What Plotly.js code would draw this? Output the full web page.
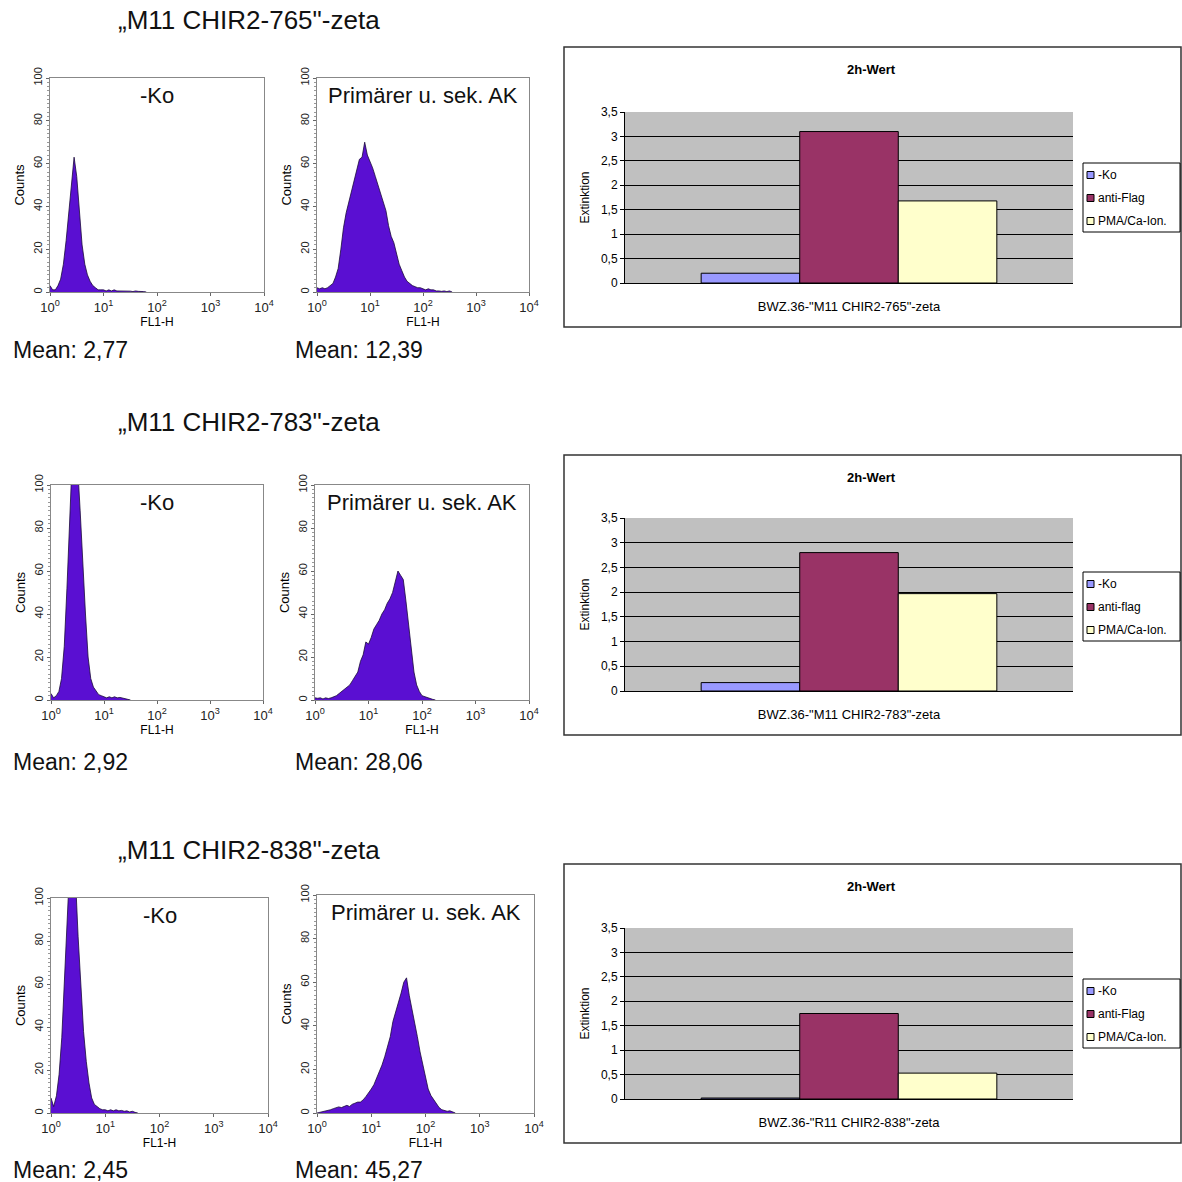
<!DOCTYPE html>
<html><head><meta charset="utf-8">
<script src="https://cdn.plot.ly/plotly-3.0.1.min.js"></script>
<style>html,body{margin:0;padding:0;background:#fff}#chart{width:1182px;height:1182px}</style>
</head><body><div id="chart"></div>
<script>
// ---------- DATA ----------
// FL1-H channel values (log spaced, 0.05 decade steps)
const fl1 = [1.00,1.12,1.26,1.41,1.58,1.78,2.00,2.24,2.51,2.82,
  3.16,3.55,3.98,4.47,5.01,5.62,6.31,7.08,7.94,8.91,
  10.0,11.2,12.6,14.1,15.8,17.8,20.0,22.4,25.1,28.2,
  31.6,35.5,39.8,44.7,50.1,56.2,63.1,70.8,79.4,89.1,
  100,112,126,141,158,178,200,224,251,282,316,355,398];

// Counts per channel
const ko765 = [3,1,1,3,6,13,24,37,52,63,54,38,22,13,8,5,3,2,1,1,1,0.5,1,0.5,1,0.5,0.5,0.3,0.6,0.3,0.4,0.2,0.5,0.3,0.4,0.2,0];
const ak765 = [2,1.5,2,1.5,2,3,4,7,11,20,30,37,42,47,53,58,62,63,70,64,61,58,54,50,46,42,38,31,26,23,18,13,10,7,5,4,3,2.5,2,2,1.5,1,1.5,1,1,0.5,0.5,0.3,0.5,0.2,0.5,0];
const ko783 = [3,1,2,4,10,25,52,85,112,125,110,88,62,40,20,10,6,4,2.5,2,1.5,1,1.5,1,1.5,1,1.2,0.8,0.5,0.3,0];
const ak783 = [1,0.8,1,0.5,1,0.7,1,1.5,2,3,4,5,6,7,9,11,13,18,21,27,26,29,33,35,37,40,42,45,47,50,55,60,58,56,46,35,22,13,7,4,2,1.5,1,0.5,0.3,0];
const ko838 = [7,3,8,18,35,65,95,118,125,110,82,58,38,24,14,7,4,3,2,1.5,1.5,1,1.5,1,1.5,1,1.2,0.8,1,0.5,0.8,0.3,0];
const ak838 = [0,0.3,0.5,0.8,1,1.5,2,2.5,2.8,2.5,3,3.5,3,4,4.5,5,5,6,7.5,9,11,13,16,19,22,26,30,35,42,46,51,55,60,62,54,48,42,35,28,22,16,11,8,6,4,2.5,1.5,1,0.8,1,0.5,0];

const rowTitles = ['\u201EM11 CHIR2-765"-zeta', '\u201EM11 CHIR2-783"-zeta', '\u201EM11 CHIR2-838"-zeta'];
const koMeans = ['Mean: 2,77', 'Mean: 2,92', 'Mean: 2,45'];
const akMeans = ['Mean: 12,39', 'Mean: 28,06', 'Mean: 45,27'];
const panelLabels = ['-Ko', 'Prim\u00E4rer u. sek. AK'];

const histTicks = [1, 10, 100, 1000, 10000];
const histTickText = ['10<sup>0</sup>', '10<sup>1</sup>', '10<sup>2</sup>', '10<sup>3</sup>', '10<sup>4</sup>'];
const countTicks = [0, 20, 40, 60, 80, 100];

const barCategories = ['BWZ.36-"M11 CHIR2-765"-zeta', 'BWZ.36-"M11 CHIR2-783"-zeta', 'BWZ.36-"R11 CHIR2-838"-zeta'];
const koNames = ['-Ko', '-Ko', '-Ko'];
const flagNames = ['anti-Flag', 'anti-flag', 'anti-Flag'];
const pmaNames = ['PMA/Ca-Ion.', 'PMA/Ca-Ion.', 'PMA/Ca-Ion.'];
const koValues = [0.20, 0.17, 0.02];
const flagValues = [3.10, 2.80, 1.75];
const pmaValues = [1.68, 1.97, 0.53];
const barColors = ['#9999FF', '#993366', '#FFFFCC'];
const barTitle = '2h-Wert';

// ---------- LAYOUT HELPERS ----------
const W = 1182, H = 1182;
const px = v => v / W;
const py = v => 1 - v / H;
const FONT = 'Liberation Sans, Arial, sans-serif';

const histSeries = [ko765, ak765, ko783, ak783, ko838, ak838];
// pixel boxes [x0, x1, yTop, yBottom]
const histBoxes = [
  [50, 264, 78, 292], [317, 529, 78, 292],
  [51, 263, 485, 700], [315, 529, 485, 700],
  [51, 268, 898, 1113], [317, 534, 895, 1113]
];
const barBoxes = [[625, 1073, 112, 283], [625, 1073, 518, 691], [625, 1073, 928, 1099]];
const outerBoxes = [[564, 1181, 47, 327], [564, 1181, 455, 735], [564, 1181, 864, 1143]];
const legendTops = [163, 572, 979];
const titleY = [69, 477, 886];
const rowTitleY = [20, 422, 850];
const meanY = [350, 762, 1170];

const traces = [];
const layout = {
  width: W, height: H,
  margin: {l: 0, r: 0, t: 0, b: 0, autoexpand: false},
  paper_bgcolor: '#fff', plot_bgcolor: 'rgba(0,0,0,0)',
  font: {family: FONT, color: '#000'},
  separators: ',.',
  showlegend: false,
  barmode: 'group', bargap: 0.34, bargroupgap: 0,
  annotations: [], shapes: []
};

histSeries.forEach((s, i) => {
  const n = i + 1;
  const b = histBoxes[i];
  traces.push({
    type: 'scatter', mode: 'lines', x: fl1, y: s,
    xaxis: 'x' + n, yaxis: 'y' + n,
    fill: 'tozeroy', fillcolor: '#5a0fd2',
    line: {color: '#1a0a3a', width: 0.8},
    showlegend: false, hoverinfo: 'skip'
  });
  layout['xaxis' + n] = {
    domain: [px(b[0]), px(b[1])], anchor: 'y' + n,
    type: 'log', range: [0, 4], tickvals: histTicks, ticktext: histTickText,
    tickfont: {size: 13, color: '#222'}, ticks: 'outside', ticklen: 3, tickcolor: '#666',
    showline: true, mirror: true, linecolor: '#888', linewidth: 1,
    showgrid: false, zeroline: false,
    title: {text: 'FL1-H', font: {size: 12}, standoff: 1}
  };
  layout['yaxis' + n] = {
    domain: [py(b[3]), py(b[2])], anchor: 'x' + n,
    range: [0, 100], tickvals: countTicks, tickangle: -90,
    tickfont: {size: 11, color: '#222'}, ticks: 'outside', ticklen: 3, tickcolor: '#666',
    minor: {dtick: 2, ticklen: 2, tickcolor: '#999', ticks: 'outside'},
    showline: true, mirror: true, linecolor: '#888', linewidth: 1,
    showgrid: false, zeroline: false,
    title: {text: 'Counts', font: {size: 13}, standoff: 4}
  };
  layout.annotations.push({
    xref: 'x' + n + ' domain', yref: 'y' + n + ' domain', x: 0.5, y: 0.985,
    xanchor: 'center', yanchor: 'top', showarrow: false,
    text: panelLabels[i % 2], font: {size: 22, color: '#111'}
  });
});

rowTitles.forEach((t, r) => {
  layout.annotations.push({xref: 'paper', yref: 'paper', x: px(116), y: py(rowTitleY[r]),
    xanchor: 'left', yanchor: 'middle', showarrow: false, text: t, font: {size: 26, color: '#111'}});
  layout.annotations.push({xref: 'paper', yref: 'paper', x: px(11), y: py(meanY[r]),
    xanchor: 'left', yanchor: 'middle', showarrow: false, text: koMeans[r], font: {size: 23, color: '#111'}});
  layout.annotations.push({xref: 'paper', yref: 'paper', x: px(293), y: py(meanY[r]),
    xanchor: 'left', yanchor: 'middle', showarrow: false, text: akMeans[r], font: {size: 23, color: '#111'}});
});

barCategories.forEach((cat, k) => {
  const n = 7 + k;
  const b = barBoxes[k];
  const o = outerBoxes[k];
  const vals = [koValues[k], flagValues[k], pmaValues[k]];
  const names = [koNames[k], flagNames[k], pmaNames[k]];
  vals.forEach((v, j) => {
    traces.push({
      type: 'bar', x: [cat], y: [v], name: names[j],
      xaxis: 'x' + n, yaxis: 'y' + n,
      marker: {color: barColors[j], line: {color: '#000', width: 1}},
      hoverinfo: 'skip'
    });
  });
  layout['xaxis' + n] = {
    domain: [px(b[0]), px(b[1])], anchor: 'y' + n, type: 'category',
    showline: true, linecolor: '#000', linewidth: 1, ticks: '',
    tickfont: {size: 13, family: FONT}, ticklabelstandoff: 11, showgrid: false
  };
  layout['yaxis' + n] = {
    domain: [py(b[3]), py(b[2])], anchor: 'x' + n,
    range: [0, 3.5], dtick: 0.5, tick0: 0,
    showgrid: true, gridcolor: '#000', gridwidth: 1, zeroline: false,
    showline: true, linecolor: '#000', linewidth: 1,
    ticks: 'outside', ticklen: 4, tickcolor: '#000',
    tickfont: {size: 12},
    title: {text: 'Extinktion', font: {size: 12}, standoff: 8}
  };
  layout.shapes.push({type: 'rect', xref: 'x' + n + ' domain', yref: 'y' + n + ' domain',
    x0: 0, x1: 1, y0: 0, y1: 1, fillcolor: '#C0C0C0', line: {width: 0}, layer: 'below'});
  layout.shapes.push({type: 'rect', xref: 'paper', yref: 'paper',
    x0: px(o[0]), x1: px(o[1]), y0: py(o[3]), y1: py(o[2]),
    fillcolor: 'rgba(0,0,0,0)', line: {color: '#333', width: 1.5}, layer: 'below'});
  layout.annotations.push({xref: 'paper', yref: 'paper', x: px(871), y: py(titleY[k]),
    xanchor: 'center', yanchor: 'middle', showarrow: false,
    text: '<b>' + barTitle + '</b>', font: {size: 13}});
  // legend box
  const lt = legendTops[k];
  layout.shapes.push({type: 'rect', xref: 'paper', yref: 'paper',
    x0: px(1083), x1: px(1180), y0: py(lt + 69), y1: py(lt),
    fillcolor: '#fff', line: {color: '#000', width: 1}, layer: 'above'});
  names.forEach((nm, j) => {
    const cy = lt + 12 + j * 23;
    layout.shapes.push({type: 'rect', xref: 'paper', yref: 'paper',
      x0: px(1087), x1: px(1094), y0: py(cy + 3.5), y1: py(cy - 3.5),
      fillcolor: barColors[j], line: {color: '#000', width: 1}, layer: 'above'});
    layout.annotations.push({xref: 'paper', yref: 'paper', x: px(1096), y: py(cy),
      xanchor: 'left', yanchor: 'middle', showarrow: false, text: nm, font: {size: 12}});
  });
});

Plotly.newPlot('chart', traces, layout, {staticPlot: true, displayModeBar: false});
</script>
</body></html>
